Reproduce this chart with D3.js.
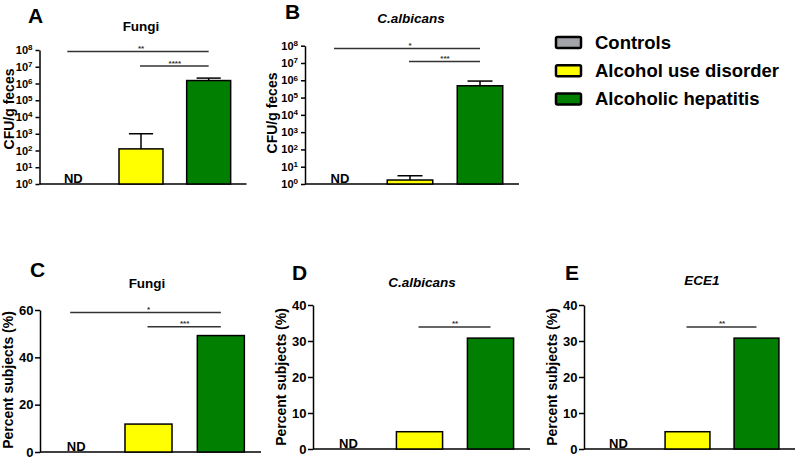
<!DOCTYPE html>
<html>
<head>
<meta charset="utf-8">
<script src="https://cdn.jsdelivr.net/npm/d3@7"></script>
<style>
  body { margin: 0; background: #fff; }
  svg { display: block; font-family: "Liberation Sans", Arial, sans-serif; font-weight: bold; }
</style>
</head>
<body>
<svg width="800" height="461"></svg>
<script>
const svg = d3.select("svg");

// DATA
const groups = ["Controls", "Alcohol use disorder", "Alcoholic hepatitis"];
const groupColors = ["#a3a3aa", "#ffff00", "#007f00"];

// CFU/g feces (null = not detected)
const fungiCfu = [null, 125, 1.5e6];
const fungiCfuErr = [null, 1000, 2.1e6];
const albicansCfu = [null, 1.7, 4.8e5];
const albicansCfuErr = [null, 3, 9e5];

// percent subjects
const fungiPct = [null, 11.8, 49.2];
const albicansPct = [null, 4.8, 30.8];
const ece1Pct = [null, 4.8, 30.8];

// ticks
const logTicks = [1, 10, 1e2, 1e3, 1e4, 1e5, 1e6, 1e7, 1e8];
const pctTicks60 = [0, 20, 40, 60];
const pctTicks40 = [0, 10, 20, 30, 40];

// significance brackets: from group, to group, height, label
const sigA = [[0, 2, 8e7, "**"], [1, 2, 1.1e7, "****"]];
const sigB = [[0, 2, 7e7, "*"], [1, 2, 1.2e7, "***"]];
const sigC = [[0, 2, 58.9, "*"], [1, 2, 52.9, "***"]];
const sigD = [[1, 2, 33.9, "**"]];
const sigE = [[1, 2, 33.9, "**"]];

// PANELS
const panels = [
  { letter: "A", title: "Fungi", italic: false, ylabel: "CFU/g feces", log: true,
    values: fungiCfu, errs: fungiCfuErr, ticks: logTicks, sig: sigA,
    x0: 39.5, x1: 242.5, yTop: 50, yBot: 184, lx: 9, ly: 109,
    letterX: 28, letterY: 23, titleX: 141, titleY: 31 },
  { letter: "B", title: "C.albicans", italic: true, ylabel: "CFU/g feces", log: true,
    values: albicansCfu, errs: albicansCfuErr, ticks: logTicks, sig: sigB,
    x0: 305, x1: 515, yTop: 45.7, yBot: 184, lx: 272, ly: 113,
    letterX: 285, letterY: 18.5, titleX: 411, titleY: 23 },
  { letter: "C", title: "Fungi", italic: false, ylabel: "Percent subjects (%)", log: false,
    values: fungiPct, errs: null, ticks: pctTicks60, sig: sigC,
    x0: 40, x1: 257, yTop: 310, yBot: 452, lx: 8, ly: 380,
    letterX: 30, letterY: 277, titleX: 147, titleY: 288 },
  { letter: "D", title: "C.albicans", italic: true, ylabel: "Percent subjects (%)", log: false,
    values: albicansPct, errs: null, ticks: pctTicks40, sig: sigD,
    x0: 313, x1: 526, yTop: 305, yBot: 449, lx: 281, ly: 377,
    letterX: 292, letterY: 280, titleX: 422, titleY: 287 },
  { letter: "E", title: "ECE1", italic: true, ylabel: "Percent subjects (%)", log: false,
    values: ece1Pct, errs: null, ticks: pctTicks40, sig: sigE,
    x0: 584, x1: 791, yTop: 305, yBot: 449, lx: 552, ly: 377,
    letterX: 565, letterY: 280, titleX: 702, titleY: 285 }
];

panels.forEach(drawPanel);

function drawPanel(p) {
  const g = svg.append("g");

  const x = d3.scaleBand().domain(d3.range(groups.length))
    .range([p.x0, p.x1]).paddingInner(0.35).paddingOuter(0.175);

  const y = p.log
    ? d3.scaleLog().domain([1, 1e8]).range([p.yBot, p.yTop])
    : d3.scaleLinear().domain([0, d3.max(p.ticks)]).range([p.yBot, p.yTop]);
  const base = p.log ? 1 : 0;

  // Y AXIS
  const yAxis = g.append("g")
    .attr("transform", `translate(${p.x0},0)`)
    .call(d3.axisLeft(y).tickValues(p.ticks)
      .tickSize(p.log ? 4 : 5).tickSizeOuter(0).tickPadding(p.log ? 3 : 1.5));
  yAxis.select(".domain").attr("stroke-width", 1.5);
  yAxis.selectAll(".tick line").attr("stroke-width", 1.5);
  yAxis.selectAll(".tick text")
    .attr("font-family", "Liberation Sans, Arial, sans-serif")
    .attr("font-weight", "bold")
    .attr("font-size", p.log ? "11px" : "13px")
    .attr("fill", "#000");
  if (p.log) {
    yAxis.selectAll(".tick text").each(function (d) {
      const t = d3.select(this).text("10");
      t.append("tspan").attr("dy", "-0.45em").attr("font-size", "8px")
        .text(Math.round(Math.log10(d)));
    });
  }

  // X BASELINE
  g.append("line")
    .attr("x1", p.x0).attr("x2", p.x1 + 4)
    .attr("y1", y(base)).attr("y2", y(base))
    .attr("stroke", "#000").attr("stroke-width", 1.5);

  // Y LABEL
  g.append("text")
    .attr("transform", `translate(${p.lx + 5},${p.ly}) rotate(-90)`)
    .attr("text-anchor", "middle")
    .attr("font-size", "14px")
    .text(p.ylabel);

  // LETTER + TITLE
  g.append("text").attr("x", p.letterX).attr("y", p.letterY)
    .attr("font-size", "21px").text(p.letter);
  g.append("text").attr("x", p.titleX).attr("y", p.titleY)
    .attr("text-anchor", "middle").attr("font-size", "13.5px")
    .attr("font-style", p.italic ? "italic" : "normal")
    .text(p.title);

  // BARS
  const rows = p.values.map((v, i) => ({ i, v, e: p.errs ? p.errs[i] : null }));

  g.selectAll("rect.bar")
    .data(rows.filter(d => d.v != null))
    .enter().append("rect")
    .attr("class", "bar")
    .attr("x", d => x(d.i))
    .attr("y", d => y(d.v))
    .attr("width", x.bandwidth())
    .attr("height", d => y(base) - y(d.v))
    .attr("fill", d => groupColors[d.i])
    .attr("stroke", "#000").attr("stroke-width", 1.5);

  // ERROR BARS
  const errs = rows.filter(d => d.e != null);
  const cap = x.bandwidth() * 0.55;
  g.selectAll("line.err")
    .data(errs).enter().append("line")
    .attr("x1", d => x(d.i) + x.bandwidth() / 2).attr("x2", d => x(d.i) + x.bandwidth() / 2)
    .attr("y1", d => y(d.v)).attr("y2", d => y(d.e))
    .attr("stroke", "#000").attr("stroke-width", 1.5);
  g.selectAll("line.cap")
    .data(errs).enter().append("line")
    .attr("x1", d => x(d.i) + x.bandwidth() / 2 - cap / 2)
    .attr("x2", d => x(d.i) + x.bandwidth() / 2 + cap / 2)
    .attr("y1", d => y(d.e)).attr("y2", d => y(d.e))
    .attr("stroke", "#000").attr("stroke-width", 1.5);

  // ND LABELS
  g.selectAll("text.nd")
    .data(rows.filter(d => d.v == null))
    .enter().append("text")
    .attr("class", "nd")
    .attr("x", d => x(d.i) + x.bandwidth() / 2)
    .attr("y", y(base) - 1.5)
    .attr("text-anchor", "middle")
    .attr("font-size", "13px")
    .text("ND");

  // SIGNIFICANCE
  const c = i => x(i) + x.bandwidth() / 2;
  p.sig.forEach(([a, b, h, label]) => {
    g.append("line")
      .attr("x1", c(a) - (a === 0 ? 6 : 1)).attr("x2", c(b))
      .attr("y1", y(h)).attr("y2", y(h))
      .attr("stroke", "#333").attr("stroke-width", 1.5);
    g.append("text")
      .attr("x", (c(a) + c(b)) / 2).attr("y", y(h) - 0.5)
      .attr("text-anchor", "middle")
      .attr("font-size", "8px").attr("fill", "#333")
      .text(label);
  });
}

// LEGEND
const legend = svg.append("g");
groups.forEach((name, i) => {
  const cy = 42.5 + i * 28.2;
  legend.append("rect")
    .attr("x", 556).attr("y", cy - 5.5)
    .attr("width", 25).attr("height", 11).attr("rx", 1.5)
    .attr("fill", groupColors[i])
    .attr("stroke", "#000").attr("stroke-width", 2.5);
  legend.append("text")
    .attr("x", 595).attr("y", cy + 6.5)
    .attr("font-size", "18.5px")
    .text(name);
});
</script>
</body>
</html>
